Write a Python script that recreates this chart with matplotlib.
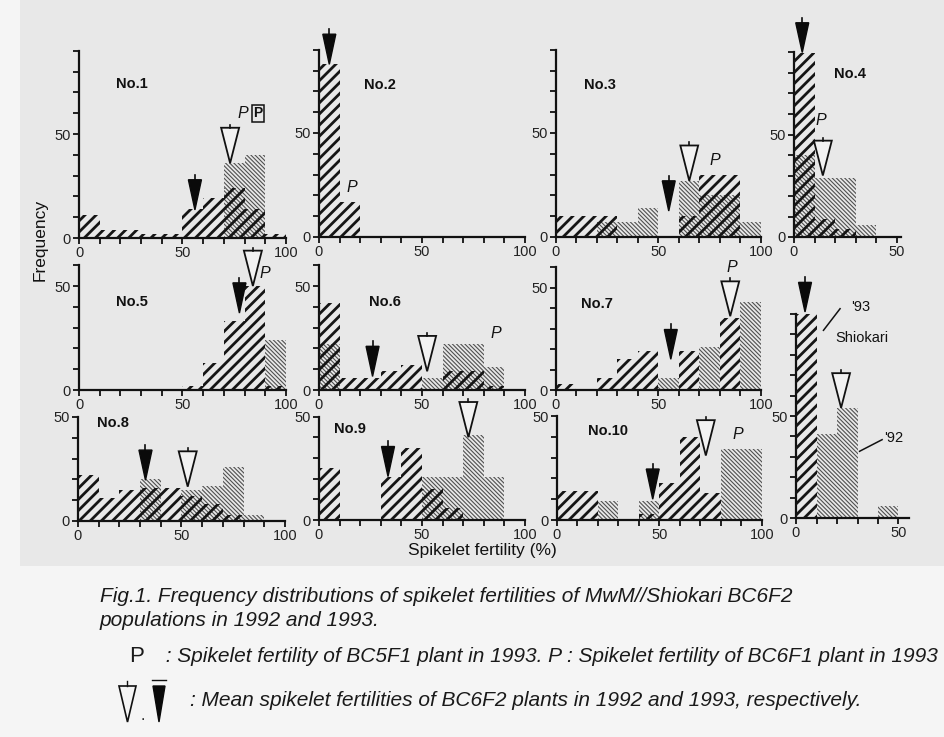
import matplotlib
matplotlib.use("Agg")
import matplotlib.pyplot as plt
from matplotlib.patches import Polygon, Rectangle
import numpy as np

# ---------------- data (frequency per 10% bin of spikelet fertility) ----------------
bins100 = [0, 10, 20, 30, 40, 50, 60, 70, 80, 90]
bins50 = [0, 10, 20, 30, 40]

no1_93 = [11, 4, 4, 2, 2, 14, 19, 24, 14, 2]
no1_92 = [0, 0, 0, 0, 0, 0, 0, 36, 40, 0]
no2_93 = [83, 17, 0, 0, 0, 0, 0, 0, 0, 0]
no2_92 = [0, 0, 0, 0, 0, 0, 0, 0, 0, 0]
no3_93 = [10, 10, 10, 0, 0, 0, 10, 30, 30, 0]
no3_92 = [0, 0, 7, 7, 14, 0, 27, 20, 20, 7]
no4_93 = [90, 9, 4, 0, 0]
no4_92 = [40, 29, 29, 6, 0]
no5_93 = [0, 0, 0, 0, 0, 2, 13, 33, 50, 2]
no5_92 = [0, 0, 0, 0, 0, 0, 0, 0, 0, 24]
no6_93 = [42, 6, 6, 9, 12, 0, 9, 9, 2, 0]
no6_92 = [22, 0, 0, 0, 0, 6, 22, 22, 11, 0]
no7_93 = [3, 0, 6, 15, 19, 0, 19, 0, 35, 0]
no7_92 = [0, 0, 0, 0, 0, 6, 0, 21, 0, 43]
shio_93 = [101, 0, 0, 0, 0]
shio_92 = [0, 41, 54, 0, 6]
no8_93 = [22, 11, 15, 16, 16, 12, 8, 3, 0, 0]
no8_92 = [0, 0, 0, 20, 0, 15, 17, 26, 3, 0]
no9_93 = [25, 0, 0, 21, 35, 15, 6, 0, 0, 0]
no9_92 = [0, 0, 0, 0, 0, 21, 21, 41, 21, 0]
no10_93 = [14, 14, 0, 0, 3, 18, 40, 13, 0, 0]
no10_92 = [0, 0, 9, 0, 9, 0, 0, 0, 34, 34]

# means (x = mean fertility, y = bar height at arrow tip)
mean93 = {"No.1": (56, 13.5), "No.2": (5, 83), "No.3": (55, 12.5), "No.4": (4, 90),
          "No.5": (77.5, 37), "No.6": (26, 6.5), "No.7": (56, 15), "Shiokari": (4.4, 101),
          "No.8": (32.6, 19.6), "No.9": (33.5, 21), "No.10": (46.7, 10)}
mean92 = {"No.1": (73, 36), "No.3": (65, 27), "No.4": (14, 30),
          "No.5": (84, 50), "No.6": (52.5, 9), "No.7": (85, 36), "Shiokari": (22, 54),
          "No.8": (53, 16.5), "No.9": (72.5, 40), "No.10": (72.6, 31)}
# BC6F1 plant fertility labels "P"
p_labels = {"No.1": (79, 60), "No.2": (16, 24), "No.3": (77.5, 37), "No.4": (13, 57),
            "No.5": (90, 56), "No.6": (86, 27), "No.7": (86, 60), "No.10": (88, 41)}
name_pos = {"No.1": (25.5, 74), "No.2": (29.5, 73), "No.3": (21.5, 73), "No.4": (27, 79.5),
            "No.5": (25.5, 42.5), "No.6": (32, 42.5), "No.7": (20, 42),
            "No.8": (17, 47), "No.9": (15, 44), "No.10": (25, 43)}

W, H = 945, 737
fig = plt.figure(figsize=(W / 100, H / 100), dpi=100)
fig.patch.set_facecolor("#f5f5f5")
fig.patches.append(Rectangle((20 / W, 0), 1, 1, transform=fig.transFigure,
                             facecolor="#e8e8e8", edgecolor="none", zorder=-10))
fig.patches.append(Rectangle((20 / W, 0), 1, (H - 566) / H, transform=fig.transFigure,
                             facecolor="#f5f5f5", edgecolor="none", zorder=-9))

TICKFONT = dict(family=["Liberation Sans", "DejaVu Sans"], size=10.5, color="#222222")


def add_panel(x0, y0, xmax, ymax, xspine, sx=2.07, sy=2.08):
    ax = fig.add_axes([x0 / W, (H - y0) / H, xmax * sx / W, ymax * sy / H])
    ax.set_facecolor("none")
    ax.set_xlim(0, xmax)
    ax.set_ylim(0, ymax)
    for s in ["top", "right"]:
        ax.spines[s].set_visible(False)
    for s in ["left", "bottom"]:
        ax.spines[s].set_linewidth(1.6)
        ax.spines[s].set_color("#111111")
    ax.spines["bottom"].set_bounds(0, xspine)
    ax.spines["left"].set_bounds(0, ymax)
    xt = [0, 50, 100] if xspine >= 100 else [0, 50]
    ax.set_xticks(xt)
    ax.set_xticklabels([str(v) for v in xt], fontdict=TICKFONT)
    ax.set_xticks(np.arange(0, xspine + 0.1, 10), minor=True)
    yt = [0, 50]
    ax.set_yticks(yt)
    ax.set_yticklabels([str(v) for v in yt], fontdict=TICKFONT)
    ax.set_yticks(np.arange(0, ymax + 0.1, 10), minor=True)
    ax.tick_params(which="both", direction="out", length=4, width=1.3, color="#111111", pad=2)
    return ax


def hatched_bars(ax, edges, vals, coarse):
    if coarse:
        lw = 2.0
        matplotlib.rcParams["hatch.linewidth"] = lw
        bars = ax.bar(edges, vals, width=10, align="edge", fill=False, hatch="///",
                      edgecolor="#151515", linewidth=0, zorder=3)
    else:
        lw = 0.8
        matplotlib.rcParams["hatch.linewidth"] = lw
        bars = ax.bar(edges, vals, width=10, align="edge", fill=False, hatch="\\" * 8,
                      edgecolor="#505050", linewidth=0, zorder=2)
    for b in bars:
        if hasattr(b, "set_hatch_linewidth"):
            b.set_hatch_linewidth(lw)


def black_arrow(ax, x, y):
    w, h, st = 6.3, 14.5, 2.5
    ax.add_patch(Polygon([(x - w / 2, y + h), (x + w / 2, y + h), (x, y)], closed=True,
                         facecolor="#0a0a0a", edgecolor="#0a0a0a", lw=1, zorder=5, clip_on=False))
    ax.plot([x, x], [y + h, y + h + st], color="#0a0a0a", lw=1.2, zorder=5, clip_on=False)


def open_arrow(ax, x, y):
    w, h, st = 8.7, 17.0, 1.5
    ax.add_patch(Polygon([(x - w / 2, y + h), (x + w / 2, y + h), (x, y)], closed=True,
                         facecolor="#f2f2f2", edgecolor="#111111", lw=1.3, zorder=6, clip_on=False))
    ax.plot([x, x], [y + h, y + h + st], color="#111111", lw=1.2, zorder=6, clip_on=False)


def draw(ax, name, edges, v93, v92):
    hatched_bars(ax, edges, v92, coarse=False)
    hatched_bars(ax, edges, v93, coarse=True)
    if name in mean93:
        black_arrow(ax, *mean93[name])
    if name in mean92:
        open_arrow(ax, *mean92[name])
    if name in p_labels:
        px, py = p_labels[name]
        ax.text(px, py, "P", style="italic", fontsize=11.5, ha="center", va="center",
                family=["Liberation Sans", "DejaVu Sans"], color="#111111", zorder=7)
    if name in name_pos:
        nx, ny = name_pos[name]
        ax.text(nx, ny, name, fontsize=10.5, fontweight="bold", ha="center", va="center",
                family=["Liberation Sans", "DejaVu Sans"], color="#111111", zorder=7)


panels = [
    ("No.1", 79, 238, 100, 90, 100, bins100, no1_93, no1_92, 2.07, 2.08),
    ("No.2", 319, 237, 100, 90, 100, bins100, no2_93, no2_92, 2.06, 2.08),
    ("No.3", 556, 237, 100, 90, 100, bins100, no3_93, no3_92, 2.05, 2.08),
    ("No.4", 794, 237, 53, 90, 52, bins50, no4_93, no4_92, 2.06, 2.05),
    ("No.5", 79, 390, 100, 60, 100, bins100, no5_93, no5_92, 2.07, 2.08),
    ("No.6", 319, 390, 100, 60, 100, bins100, no6_93, no6_92, 2.06, 2.08),
    ("No.7", 556, 390, 100, 60, 100, bins100, no7_93, no7_92, 2.05, 2.05),
    ("Shiokari", 796, 518, 55, 100, 55, bins50, shio_93, shio_92, 2.05, 2.04),
    ("No.8", 78, 521, 100, 50, 100, bins100, no8_93, no8_92, 2.07, 2.08),
    ("No.9", 319, 520, 100, 50, 100, bins100, no9_93, no9_92, 2.06, 2.07),
    ("No.10", 557, 520, 100, 50, 100, bins100, no10_93, no10_92, 2.05, 2.08),
]

axes = {}
for name, x0, y0, xmax, ymax, xsp, edges, v93, v92, sx, sy in panels:
    ax = add_panel(x0, y0, xmax, ymax, xsp, sx, sy)
    draw(ax, name, edges, v93, v92)
    axes[name] = ax

# extra annotations
ax1 = axes["No.1"]
ax1.text(86.5, 60, "P", fontsize=10, fontweight="bold", ha="center", va="center",
         family=["Liberation Sans", "DejaVu Sans"], color="#111111", zorder=7,
         bbox=dict(boxstyle="square,pad=0.12", facecolor="none", edgecolor="#111111", lw=1.1))

axs = axes["Shiokari"]
fnt = dict(family=["Liberation Sans", "DejaVu Sans"], color="#111111")
axs.text(27, 103.5, "'93", fontsize=10.5, ha="left", va="center", **fnt)
axs.plot([13.4, 21.5], [92, 102.6], color="#111111", lw=1.1, clip_on=False)
axs.text(19, 88, "Shiokari", fontsize=10.5, ha="left", va="center", **fnt)
axs.text(43, 39, "'92", fontsize=10.5, ha="left", va="center", **fnt)
axs.plot([31, 42], [32.7, 38.4], color="#111111", lw=1.1, clip_on=False)

# axis titles
fig.text(40 / W, 1 - 240 / H, "Frequency", rotation=90, ha="center", va="center",
         fontsize=12.5, family=["Liberation Sans", "DejaVu Sans"], color="#111111")
fig.text(482 / W, 1 - 551 / H, "Spikelet fertility (%)", ha="center", va="center",
         fontsize=12.5, family=["Liberation Sans", "DejaVu Sans"], color="#111111")

# caption
cap = dict(family=["Liberation Sans", "DejaVu Sans"],
           style="italic", color="#1a1a1a", fontsize=15)
fig.text(100 / W, 1 - 597 / H,
         "Fig.1. Frequency distributions of spikelet fertilities of MwM//Shiokari BC6F2",
         ha="left", va="center", **cap)
fig.text(100 / W, 1 - 620 / H, "populations in 1992 and 1993.", ha="left", va="center", **cap)
fig.text(137 / W, 1 - 656 / H, "P", ha="center", va="center", fontsize=16,
         family=["Liberation Sans", "DejaVu Sans"], color="#1a1a1a")
fig.text(160 / W, 1 - 656 / H,
         " : Spikelet fertility of BC5F1 plant in 1993. P : Spikelet fertility of BC6F1 plant in 1993",
         ha="left", va="center", **cap)
fig.text(190 / W, 1 - 700 / H,
         ": Mean spikelet fertilities of BC6F2 plants in 1992 and 1993, respectively.",
         ha="left", va="center", **cap)

# legend glyphs for the mean arrows
fig.patches.append(Polygon([(119 / W, 1 - 686 / H), (136 / W, 1 - 686 / H), (127.5 / W, 1 - 722 / H)],
                           closed=True, transform=fig.transFigure, facecolor="#f5f5f5",
                           edgecolor="#111111", lw=1.2))
fig.patches.append(Polygon([(153 / W, 1 - 686 / H), (165 / W, 1 - 686 / H), (159 / W, 1 - 722 / H)],
                           closed=True, transform=fig.transFigure, facecolor="#0a0a0a",
                           edgecolor="#0a0a0a", lw=1))
fig.lines.append(matplotlib.lines.Line2D([152 / W, 166 / W], [1 - 680 / H, 1 - 680 / H],
                                         transform=fig.transFigure, color="#111111", lw=1))
fig.lines.append(matplotlib.lines.Line2D([127.5 / W, 127.5 / W], [1 - 681 / H, 1 - 686 / H],
                                         transform=fig.transFigure, color="#111111", lw=1))
fig.text(143 / W, 1 - 716 / H, ".", ha="center", va="center", fontsize=10, color="#111111")

fig.savefig("out.png", dpi=100, facecolor=fig.get_facecolor())
